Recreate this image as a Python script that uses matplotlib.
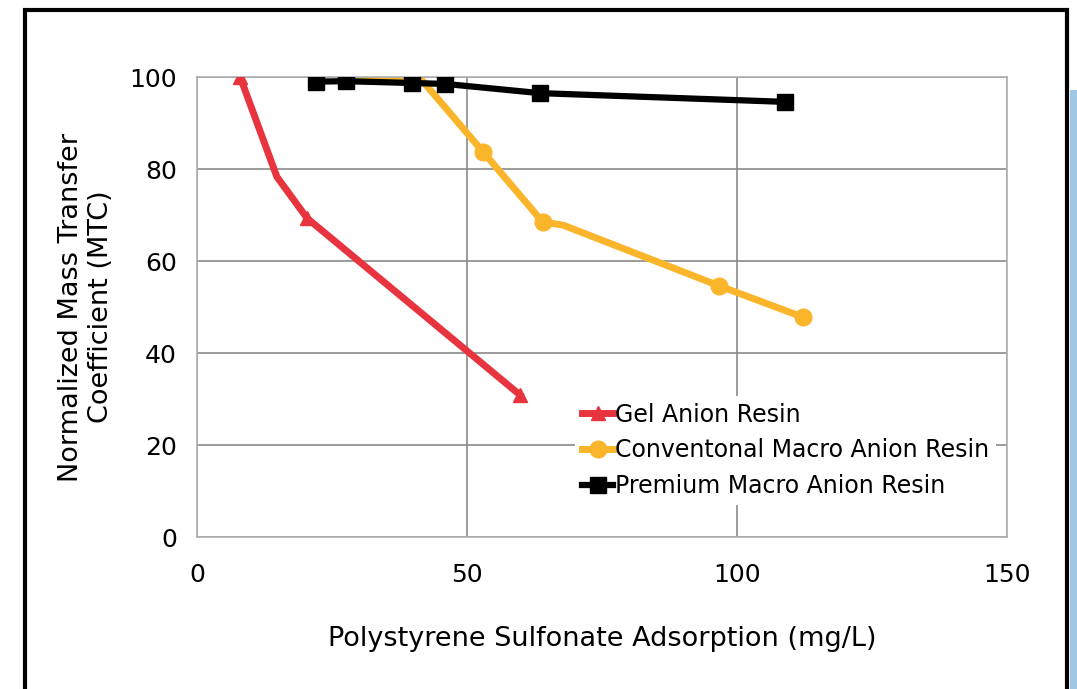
import matplotlib.pyplot as plt
from matplotlib.patches import Rectangle

plt.rcParams["font.family"] = ["DejaVu Sans"]

# data
gel_x = [8, 14.8, 20.4, 59.8]
gel_y = [100, 78.3, 69.3, 30.9]
gel_marks = [0, 2, 3]

conv_x = [28.7, 41.3, 53.0, 64.0, 67.8, 96.7, 112.2]
conv_y = [99.1, 99.8, 83.7, 68.5, 67.8, 54.6, 47.8]
conv_marks = [2, 3, 5, 6]

prem_x = [22.0, 27.6, 39.8, 46.0, 63.5, 108.9]
prem_y = [99.0, 99.1, 98.7, 98.5, 96.5, 94.6]

labels = ["Gel Anion Resin", "Conventonal Macro Anion Resin", "Premium Macro Anion Resin"]
x_ticks = [0, 50, 100, 150]
y_ticks = [0, 20, 40, 60, 80, 100]

fig = plt.figure(figsize=(10.77, 6.89), dpi=100)
ax = fig.add_axes([0.1829, 0.2206, 0.7521, 0.6676])

ax.plot(gel_x, gel_y, color="#e8343f", lw=5, marker="^", ms=10,
        markevery=gel_marks, label=labels[0], zorder=3)
ax.plot(conv_x, conv_y, color="#fbb52a", lw=5, marker="o", ms=12,
        markevery=conv_marks, label=labels[1], zorder=2)
ax.plot(prem_x, prem_y, color="black", lw=4.5, marker="s", ms=11,
        label=labels[2], zorder=4)

ax.set_xlim(0, 150)
ax.set_ylim(0, 100)
ax.set_xticks(x_ticks)
ax.set_yticks(y_ticks)
ax.grid(True, color="#8a8a8a", lw=1.2)
ax.set_axisbelow(True)
for s in ax.spines.values():
    s.set_color("#b0b0b0")
    s.set_linewidth(1.2)
ax.tick_params(length=0, labelsize=18)
ax.tick_params(axis="x", pad=19)
ax.tick_params(axis="y", pad=14.5)

ax.set_ylabel("Normalized Mass Transfer\nCoefficient (MTC)", fontsize=19.5, labelpad=11)
ax.set_xlabel("Polystyrene Sulfonate Adsorption (mg/L)", fontsize=19.5, labelpad=28)

leg = fig.legend(loc="upper left", bbox_to_anchor=(0.523, 0.443), fontsize=17,
                 frameon=True, facecolor="white", edgecolor="none", framealpha=1,
                 handlelength=1.3, handletextpad=0.1, labelspacing=0.5,
                 borderpad=0.3)
leg.get_frame().set_boxstyle("square", pad=0)

# outer frame and the blue strip at the right edge
fig.patches.append(Rectangle((25 / 1077, -0.1), (1067 - 25) / 1077, 1.1 - 10 / 689,
                             transform=fig.transFigure, fill=False, ec="black", lw=3))
fig.patches.append(Rectangle((1070 / 1077, 0), 7 / 1077, 1 - 90 / 689,
                             transform=fig.transFigure, color="#a0c8e4", lw=0))

fig.savefig("out.png", dpi=100)
